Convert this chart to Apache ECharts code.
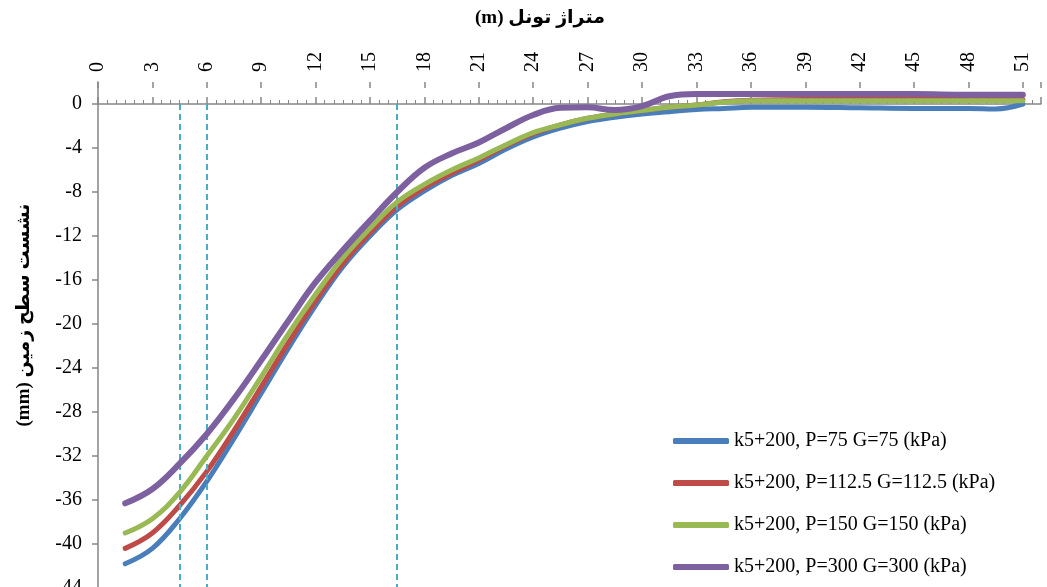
<!DOCTYPE html>
<html>
<head>
<meta charset="utf-8">
<script src="https://cdn.jsdelivr.net/npm/echarts@6/dist/echarts.min.js"></script>
<style>
  html, body { margin: 0; padding: 0; background: #fff; }
  #chart { width: 1047px; height: 587px; }
</style>
</head>
<body>
<div id="chart"></div>
<script>
// مقادیر نشست (mm) در متراژ تونل (m)
const xs = [1.5, 3, 4.5, 6, 7.5, 9, 10.5, 12, 13.5, 15, 16.5, 18, 19.5, 21, 22.5, 24, 25.5, 27, 28.5, 30, 31.5, 33, 34.5, 36, 39, 42, 45, 48, 49.5, 51];
const p75 = [-41.8, -40.4, -37.7, -34.3, -30.4, -26.3, -22.2, -18.3, -14.8, -12.0, -9.6, -7.9, -6.5, -5.4, -4.1, -3.0, -2.2, -1.6, -1.2, -0.9, -0.7, -0.5, -0.4, -0.3, -0.3, -0.35, -0.4, -0.4, -0.45, 0.0];
const p112 = [-40.4, -39.0, -36.5, -33.4, -29.7, -25.7, -21.7, -17.9, -14.5, -11.7, -9.3, -7.6, -6.3, -5.1, -3.8, -2.7, -1.9, -1.3, -0.9, -0.6, -0.3, -0.1, 0.2, 0.35, 0.4, 0.4, 0.4, 0.4, 0.4, 0.4];
const p150 = [-39.0, -37.7, -35.3, -32.0, -28.6, -24.8, -20.9, -17.3, -14.0, -11.3, -8.9, -7.3, -6.0, -4.9, -3.7, -2.6, -1.9, -1.3, -0.9, -0.6, -0.3, -0.1, 0.15, 0.3, 0.3, 0.3, 0.3, 0.3, 0.3, 0.3];
const p300 = [-36.3, -35.0, -32.7, -30.0, -26.8, -23.3, -19.7, -16.2, -13.3, -10.6, -8.0, -5.8, -4.5, -3.5, -2.2, -1.0, -0.35, -0.3, -0.55, -0.2, 0.7, 0.9, 0.9, 0.9, 0.9, 0.9, 0.9, 0.85, 0.85, 0.85];
const seriesNames = [
  'k5+200, P=75 G=75 (kPa)',
  'k5+200, P=112.5 G=112.5 (kPa)',
  'k5+200, P=150 G=150 (kPa)',
  'k5+200, P=300 G=300 (kPa)'
];
const colors = ['#4A7EBB', '#BE4B48', '#98B954', '#7D60A0'];
const vLines = [4.5, 6, 16.5];
const yTicks = [0, -4, -8, -12, -16, -20, -24, -28, -32, -36, -40, -44];

const serif = '"Liberation Serif", "DejaVu Sans", serif';
const axisGray = '#868686';

const chart = echarts.init(document.getElementById('chart'));

const toPairs = (ys) => xs.map((x, i) => [x, ys[i]]);

const series = [p75, p112, p150, p300].map((ys, i) => ({
  name: seriesNames[i],
  type: 'line',
  data: toPairs(ys),
  smooth: 0.4,
  symbol: 'none',
  lineStyle: { color: colors[i], width: i === 3 ? 6 : 5, cap: 'round', join: 'round' },
  itemStyle: { color: colors[i] },
  z: 3 + i
}));

// خطوط عمودی خط‌چین
series[0].markLine = {
  silent: true,
  symbol: 'none',
  label: { show: false },
  lineStyle: { color: '#4BACC6', width: 2, type: [6, 4] },
  data: vLines.map(v => [{ coord: [v, 0] }, { coord: [v, -48] }])
};

chart.setOption({
  animation: false,
  backgroundColor: '#fff',
  grid: { left: 98, top: 82, width: 943, height: 550, outerBoundsMode: 'none', containLabel: false },
  legend: {
    orient: 'vertical',
    left: 668,
    top: 426,
    itemWidth: 56,
    itemHeight: 6,
    itemGap: 22,
    icon: 'roundRect',
    textStyle: { fontFamily: serif, fontSize: 20, color: '#000' },
    data: seriesNames
  },
  xAxis: [{
    type: 'value',
    position: 'top',
    min: 0,
    max: 52,
    interval: 3,
    axisLine: { onZero: true, lineStyle: { color: axisGray, width: 1.5 } },
    axisTick: { length: 7, lineStyle: { color: axisGray, width: 1.5 } },
    minorTick: { show: true, splitNumber: 6, length: 4, lineStyle: { color: axisGray, width: 1 } },
    axisLabel: {
      rotate: 90,
      margin: 10,
      showMaxLabel: false,
      fontFamily: serif,
      fontSize: 20,
      color: '#000'
    },
    splitLine: { show: false }
  }, {
    // نیمه پایینی تیک‌های اصلی
    type: 'value',
    position: 'top',
    min: 0,
    max: 52,
    interval: 3,
    axisLine: { show: false, onZero: true },
    axisTick: { inside: true, length: 6, lineStyle: { color: axisGray, width: 1.5 } },
    axisLabel: { show: false },
    splitLine: { show: false }
  }],
  yAxis: {
    type: 'value',
    min: -48,
    max: 2,
    interval: 4,
    axisLine: { show: true, onZero: false, lineStyle: { color: axisGray, width: 1.5 } },
    axisTick: { show: true, length: 6, customValues: yTicks, lineStyle: { color: axisGray, width: 1.5 } },
    axisLabel: {
      customValues: yTicks,
      margin: 16,
      fontFamily: serif,
      fontSize: 20,
      color: '#000'
    },
    splitLine: { show: false }
  },
  graphic: [{
    type: 'text',
    x: 540,
    y: 18,
    style: {
      text: '(m) متراژ تونل',
      font: 'bold 19px "Liberation Serif", "DejaVu Sans", serif',
      fill: '#000',
      align: 'center',
      verticalAlign: 'middle'
    }
  }, {
    type: 'text',
    x: 24,
    y: 315,
    rotation: Math.PI / 2,
    style: {
      text: '(mm) نشست سطح زمین',
      font: 'bold 19px "Liberation Serif", "DejaVu Sans", serif',
      fill: '#000',
      align: 'center',
      verticalAlign: 'middle'
    }
  }],
  series: series
});
</script>
</body>
</html>
